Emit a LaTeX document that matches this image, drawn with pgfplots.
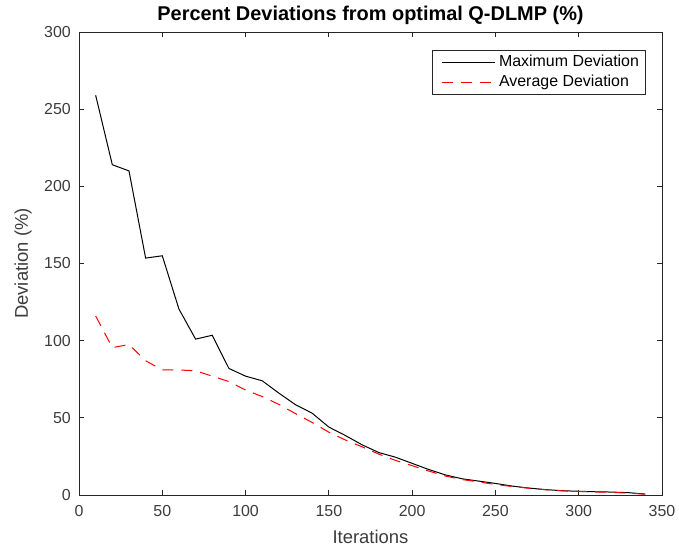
\documentclass[border=0pt]{standalone}
\usepackage{fontspec}
\setmainfont{Liberation Sans}
\usepackage{pgfplots}
\pgfplotsset{compat=1.18}
\definecolor{axgray}{RGB}{38,38,38}
\definecolor{txtgray}{RGB}{60,60,60}

\begin{document}
\begin{tikzpicture}
\useasboundingbox (-79bp,-57bp) rectangle (600bp,495bp);
\begin{axis}[
  at={(0,0)}, anchor=south west,
  scale only axis, width=583bp, height=463bp,
  xmin=0, xmax=350, ymin=0, ymax=300,
  xtick={0,50,...,350}, ytick={0,50,...,300},
  tick align=inside, major tick length=5bp,
  axis line style={axgray, line width=0.8bp},
  every tick/.style={axgray, line width=0.8bp},
  /pgf/number format/assume math mode=true,
  tick label style={font=\fontsize{16}{16}\selectfont, text=txtgray, inner sep=0pt},
  xticklabel style={anchor=north, yshift=-10bp},
  yticklabel style={anchor=east, xshift=-8bp},
  every axis title shift=0pt,
  title={\bfseries Percent Deviations from optimal Q-DLMP (\%)},
  title style={at={(axis description cs:0.5,1.0259)}, anchor=base,
               font=\fontsize{20}{20}\selectfont, inner sep=0pt},
  xlabel={Iterations},
  ylabel={Deviation (\%)},
  xlabel style={at={(axis description cs:0.5,-0.1037)}, anchor=base,
                font=\fontsize{18.5}{18.5}\selectfont, text=txtgray, inner sep=0pt},
  ylabel style={at={(axis description cs:-0.096,0.5)}, rotate=0, anchor=center,
                font=\fontsize{18.5}{18.5}\selectfont, text=txtgray, inner sep=0pt},
  legend style={at={(1,1)}, anchor=north east, xshift=-16bp, yshift=-18bp,
                font=\fontsize{16}{16}\selectfont, draw=axgray, line width=0.6bp,
                inner xsep=4.7bp, inner ysep=2bp, row sep=0pt, column sep=2bp,
                nodes={inner sep=2bp, text height=12bp, text depth=4bp},
                cells={anchor=west}},
  legend image code/.code={\path (0bp,0bp); \draw[#1] (4bp,0bp) -- (57bp,0bp);},
]
\addplot[black, line width=1bp] coordinates {
  (10,259) (20,214) (30,210) (40,153.5) (50,155) (60,120.5) (70,101)
  (80,103.5) (90,82) (100,77) (110,74) (120,66) (130,58.5) (140,53)
  (150,44) (160,38.5) (170,32.5) (180,27.5) (190,24.5) (200,20.5)
  (210,16.5) (220,13) (230,10.5) (240,9) (250,7.5) (260,5.8) (270,4.5)
  (280,3.5) (290,2.8) (300,2.4) (310,2.1) (320,1.9) (330,1.5) (340,0.6) };
\addplot[red, line width=1bp, dash pattern=on 11bp off 8bp] coordinates {
  (10,116) (20,95.5) (30,97.5) (40,87) (50,81) (60,81) (70,80.5)
  (80,77) (90,73.5) (100,68) (110,63.8) (120,58.7) (130,52.7) (140,47)
  (150,40.7) (160,35.6) (170,31.2) (180,26.5) (190,22.4) (200,19)
  (210,15.5) (220,12.3) (230,10) (240,8.5) (250,6.8) (260,5.5) (270,4.4)
  (280,3.4) (290,2.7) (300,2.3) (310,2) (320,1.7) (330,1.2) (340,0.5) };
\legend{Maximum Deviation, Average Deviation}
\end{axis}
\end{tikzpicture}
\end{document}
